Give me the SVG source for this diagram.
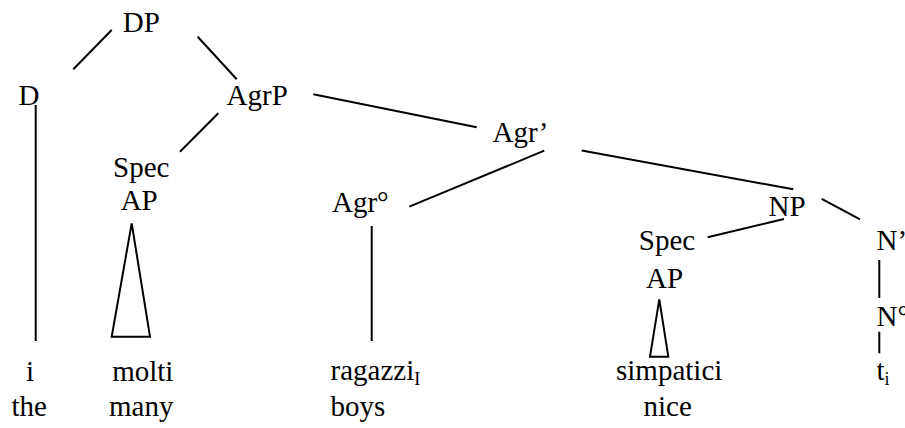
<svg xmlns="http://www.w3.org/2000/svg" width="905" height="428" viewBox="0 0 905 428">
<style>
text{font-family:'Liberation Serif','Times New Roman','DejaVu Serif',serif;font-size:29px;fill:#000}
.c{text-anchor:middle}
.sub{font-size:18px}
line,polygon{stroke:#000;stroke-width:2;fill:none}
</style>
<rect width="905" height="428" fill="#fff"/>
<g id="connectors">
<line x1="111.7" y1="30" x2="73.3" y2="69.3"/>
<line x1="197.7" y1="36.7" x2="236.7" y2="79.3"/>
<line x1="218.3" y1="113.3" x2="180" y2="151.7"/>
<line x1="313.3" y1="94.3" x2="476.7" y2="127.3"/>
<line x1="544.3" y1="150.7" x2="409.3" y2="206.7"/>
<line x1="581.7" y1="150.5" x2="793.3" y2="189.3"/>
<line x1="784" y1="219" x2="707.7" y2="237.3"/>
<line x1="821.7" y1="198.8" x2="860" y2="219.3"/>
<line x1="35.7" y1="105" x2="35.7" y2="341"/>
<line x1="371.7" y1="226" x2="371.7" y2="341"/>
<line x1="879.3" y1="260" x2="879.3" y2="298"/>
<line x1="879.3" y1="331.7" x2="879.3" y2="353.3"/>
<polygon points="131.7,223.3 111.7,336.7 150,336.7"/>
<polygon points="659.3,299.3 650,356.7 668.3,356.7"/>
</g>
<g id="DP"><text class="c" x="141.3" y="32">DP</text></g>
<g id="D"><text class="c" x="29" y="105">D</text></g>
<g id="AgrP"><text class="c" x="257.2" y="105">AgrP</text></g>
<g id="Agr1"><text class="c" x="520.5" y="141.5">Agr’</text></g>
<g id="SpecAP1"><text class="c" x="141.2" y="177">Spec</text><text class="c" x="139.2" y="209.5">AP</text></g>
<g id="Agr0"><text class="c" x="360.3" y="212">Agr°</text></g>
<g id="NP"><text class="c" x="787" y="216">NP</text></g>
<g id="SpecAP2"><text class="c" x="667" y="250">Spec</text><text class="c" x="664.5" y="288">AP</text></g>
<g id="N1"><text x="876.5" y="250">N’</text></g>
<g id="N0"><text x="876.5" y="326">N°</text></g>
<g id="w-i"><text class="c" x="30" y="381">i</text><text class="c" x="29.2" y="416">the</text></g>
<g id="w-molti"><text class="c" x="142.8" y="381">molti</text><text class="c" x="141.2" y="416">many</text></g>
<g id="w-ragazzi"><text x="330.5" y="380">ragazzi<tspan class="sub" dy="5">I</tspan></text><text x="330.5" y="416">boys</text></g>
<g id="w-simpatici"><text class="c" x="669.2" y="380">simpatici</text><text class="c" x="667.7" y="416">nice</text></g>
<g id="w-t"><text x="876.5" y="380">t<tspan class="sub" dy="5">i</tspan></text></g>
</svg>
